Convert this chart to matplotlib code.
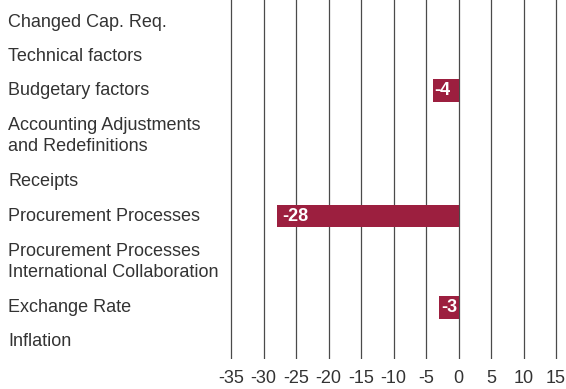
import matplotlib
matplotlib.use("Agg")
import matplotlib.pyplot as plt
import matplotlib.transforms as mtransforms

plt.rcParams["font.family"] = ["Liberation Sans", "DejaVu Sans"]

# categories from top to bottom, values in the same order (None = no bar)
categories = [
    "Project Change (PC)",
    "Changed Cap. Req.",
    "Technical factors",
    "Budgetary factors",
    "Accounting Adjustments\nand Redefinitions",
    "Receipts",
    "Procurement Processes",
    "Procurement Processes\nInternational Collaboration",
    "Exchange Rate",
    "Inflation",
]
values = [None, None, None, -4, None, None, -28, None, -3, None]
ticks = [-35, -30, -25, -20, -15, -10, -5, 0, 5, 10, 15]

BAR_COLOR = "#9c1f3f"
TEXT_COLOR = "#333333"

# two-line labels get a taller row
heights = [1.0 + 0.68 * c.count("\n") for c in categories]
centers = []
pos = 0.0
for h in heights:
    centers.append(pos + h / 2)
    pos += h
total = pos

W, H = 566, 389
fig = plt.figure(figsize=(W / 100, H / 100), dpi=100)

# data range -36..16 puts -35 at x=231px and 15 at x=556px
left_px = 231 - 6.5
right_px = 556 + 6.5
bottom_px = 359
row_px = (bottom_px - 22) / (total - centers[1])
top_data = -1.0  # top row is partly cut off by the figure edge
y_top_px = 22 - (centers[1] - top_data) * row_px
ax = fig.add_axes([left_px / W, 1 - bottom_px / H,
                   (right_px - left_px) / W, (bottom_px - y_top_px) / H])
ax.set_xlim(-36, 16)
ax.set_ylim(total, top_data)

for t in ticks:
    ax.axvline(t, color="#4a4a4a", lw=0.9, zorder=1)

for c, v in zip(centers, values):
    if v is None:
        continue
    ax.barh(c, v, height=0.66, color=BAR_COLOR, zorder=2)
    pad = 0.9 if abs(v) > 5 else 0.3
    ax.text(v + pad, c, f"{v}", color="white", fontsize=13, ha="left",
            va="center", fontweight="bold", zorder=3)

trans = mtransforms.blended_transform_factory(fig.transFigure, ax.transData)
for c, label in zip(centers, categories):
    ax.text(8 / W, c, label, transform=trans, ha="left", va="center",
            fontsize=13, color=TEXT_COLOR, linespacing=1.3)

ax.set_xticks(ticks)
ax.set_xticklabels([str(t) for t in ticks])
ax.tick_params(axis="x", length=0, pad=8, labelsize=13, labelcolor=TEXT_COLOR)
ax.set_yticks([])
for s in ax.spines.values():
    s.set_visible(False)

fig.savefig("out.png", dpi=100)
